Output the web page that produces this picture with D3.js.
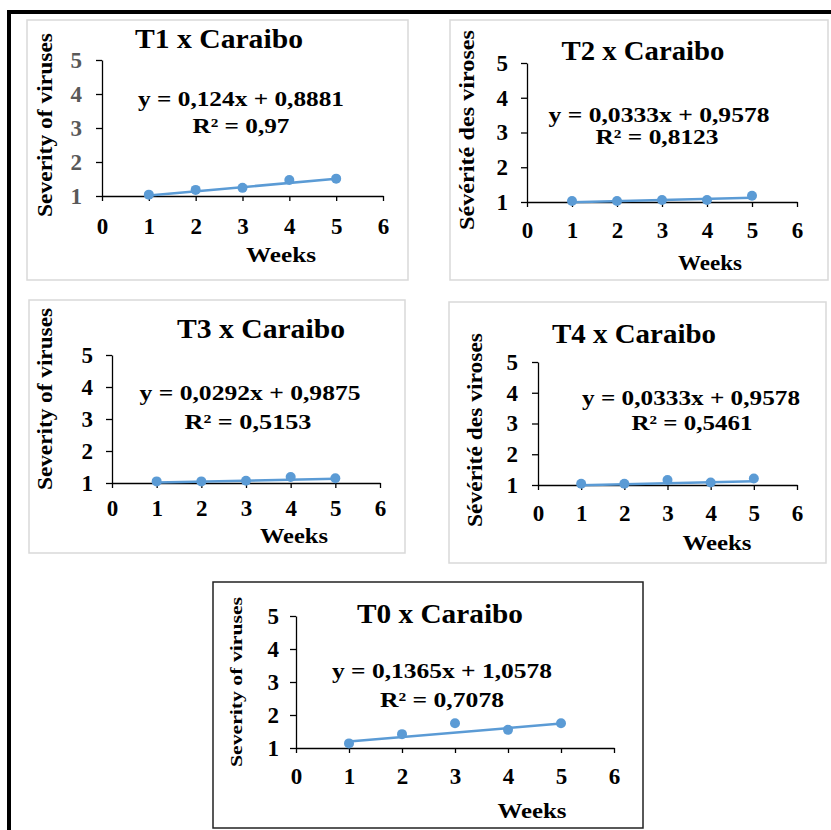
<!DOCTYPE html>
<html>
<head>
<meta charset="utf-8">
<script src="https://cdn.jsdelivr.net/npm/d3@7"></script>
<style>
	body { margin: 0; background: #fff; }
	svg { display: block; }
	text { font-family: "Liberation Serif", "Times New Roman", serif; font-weight: bold; }
</style>
</head>
<body>
<svg id="chart" width="831" height="830"></svg>
<script>
// Data
const titles = ['T1 x Caraibo', 'T2 x Caraibo', 'T3 x Caraibo', 'T4 x Caraibo', 'T0 x Caraibo'];
const yLabels = ['Severity of viruses', 'Sévérité des viroses', 'Severity of viruses', 'Sévérité des viroses', 'Severity of viruses'];
const xLabel = 'Weeks';
const weeks = [1, 2, 3, 4, 5];
const sevT1 = [1.04, 1.18, 1.24, 1.47, 1.51];
const sevT2 = [1.03, 1.03, 1.06, 1.06, 1.18];
const sevT3 = [1.05, 1.05, 1.07, 1.19, 1.15];
const sevT4 = [1.04, 1.04, 1.16, 1.08, 1.21];
const sevT0 = [1.14, 1.42, 1.75, 1.55, 1.75];
const slopes = [0.124, 0.0333, 0.0292, 0.0333, 0.1365];
const intercepts = [0.8881, 0.9578, 0.9875, 0.9578, 1.0578];
const r2 = ['0,97', '0,8123', '0,5153', '0,5461', '0,7078'];
const xTicks = [0, 1, 2, 3, 4, 5, 6];
const yTicks = [1, 2, 3, 4, 5];
const series = [sevT1, sevT2, sevT3, sevT4, sevT0];

const blue = '#5b9bd5';

// Where each panel sits on the page
const layout = [
	{ box: [27, 20, 381, 260], border: '#d9d9d9', x0: 102, x6: 383, y1: 196, y5: 60,
		title: [219, 48, 168], eq: [241, 106, 206], r2: [241, 133, 97], weeks: [281, 262, 70],
		ylab: [52, 125, 184, 20], yPad: 14, xBase: 38, yTickColor: '#595959' },
	{ box: [450, 20, 378, 260], border: '#d9d9d9', x0: 527, x6: 797, y1: 202, y5: 63,
		title: [643, 60, 163], eq: [659, 122, 221], r2: [657, 144, 123], weeks: [710, 270, 64],
		ylab: [474, 130, 200, 20], yPad: 13, xBase: 36, yTickColor: '#000' },
	{ box: [29, 300, 376, 253], border: '#d9d9d9', x0: 112, x6: 380, y1: 483, y5: 355,
		title: [261, 338, 168], eq: [250, 400, 221], r2: [248, 429, 127], weeks: [294, 543, 68],
		ylab: [52, 399, 182, 20], yPad: 13, xBase: 33, yTickColor: '#000' },
	{ box: [449, 302, 377, 261], border: '#d9d9d9', x0: 538, x6: 797, y1: 485, y5: 362,
		title: [634, 343, 164], eq: [691, 405, 218], r2: [692, 430, 121], weeks: [717, 550, 69],
		ylab: [482, 430, 194, 20], yPad: 14, xBase: 36, yTickColor: '#000' },
	{ box: [213, 582, 430, 246], border: '#222', x0: 296, x6: 614, y1: 748, y5: 616,
		title: [440, 623, 166], eq: [442, 678, 220], r2: [442, 707, 124], weeks: [532, 818, 69],
		ylab: [242, 682, 170, 17], yPad: 11, xBase: 36, yTickColor: '#000' },
];

const comma = v => String(v).replace('.', ',');

const svg = d3.select('#chart');

// Outer frame (top and left only)
svg.append('path')
	.attr('d', 'M9,830 V12 H831')
	.attr('fill', 'none').attr('stroke', '#000').attr('stroke-width', 4);

layout.forEach((L, i) => {
	const g = svg.append('g');
	g.append('rect')
		.attr('x', L.box[0]).attr('y', L.box[1]).attr('width', L.box[2]).attr('height', L.box[3])
		.attr('fill', '#fff').attr('stroke', L.border).attr('stroke-width', 1.5);

	const x = d3.scaleLinear().domain([0, 6]).range([L.x0, L.x6]);
	const y = d3.scaleLinear().domain([1, 5]).range([L.y1, L.y5]);

	// y axis
	const gy = g.append('g').attr('transform', `translate(${L.x0},0)`)
		.call(d3.axisLeft(y).tickValues(yTicks).tickFormat(d3.format('d'))
			.tickSize(6).tickPadding(L.yPad).tickSizeOuter(0));
	gy.select('.domain').attr('stroke', '#000').attr('stroke-width', 1.3);
	gy.selectAll('.tick line').attr('stroke', '#000').attr('stroke-width', 1.3);
	gy.selectAll('.tick text').attr('font-size', 23).attr('font-family', null).attr('fill', L.yTickColor);

	// x axis
	const gx = g.append('g').attr('transform', `translate(0,${L.y1})`)
		.call(d3.axisBottom(x).tickValues(xTicks).tickFormat(d3.format('d'))
			.tickSize(5).tickSizeOuter(0));
	gx.select('.domain').attr('stroke', '#000').attr('stroke-width', 1.3);
	gx.selectAll('.tick line').attr('stroke', '#000').attr('stroke-width', 1.3);
	gx.selectAll('.tick text').attr('font-size', 23).attr('font-family', null).attr('fill', '#000')
		.attr('y', L.xBase).attr('dy', null);

	// linear trendline from the fitted equation
	const trend = weeks.filter((w, k) => k === 0 || k === weeks.length - 1)
		.map(w => [w, slopes[i] * w + intercepts[i]]);
	g.append('path')
		.attr('d', d3.line().x(d => x(d[0])).y(d => y(d[1]))(trend))
		.attr('fill', 'none').attr('stroke', blue).attr('stroke-width', 2.5);

	g.selectAll('circle.pt').data(weeks.map((w, k) => [w, series[i][k]])).enter()
		.append('circle').classed('pt', true)
		.attr('cx', d => x(d[0])).attr('cy', d => y(d[1])).attr('r', 5)
		.attr('fill', blue);

	const label = (txt, pos, size) => g.append('text')
		.attr('x', pos[0]).attr('y', pos[1]).attr('text-anchor', 'middle')
		.attr('font-size', size).attr('textLength', pos[2]).attr('lengthAdjust', 'spacingAndGlyphs')
		.text(txt);

	label(titles[i], L.title, 28);
	label(`y = ${comma(slopes[i])}x + ${comma(intercepts[i])}`, L.eq, 21);
	label(`R² = ${r2[i]}`, L.r2, 21);
	label(xLabel, L.weeks, 22);

	g.append('text')
		.attr('transform', `translate(${L.ylab[0]},${L.ylab[1]}) rotate(-90)`)
		.attr('text-anchor', 'middle').attr('font-size', L.ylab[3])
		.attr('textLength', L.ylab[2]).attr('lengthAdjust', 'spacingAndGlyphs')
		.text(yLabels[i]);
});
</script>
</body>
</html>
